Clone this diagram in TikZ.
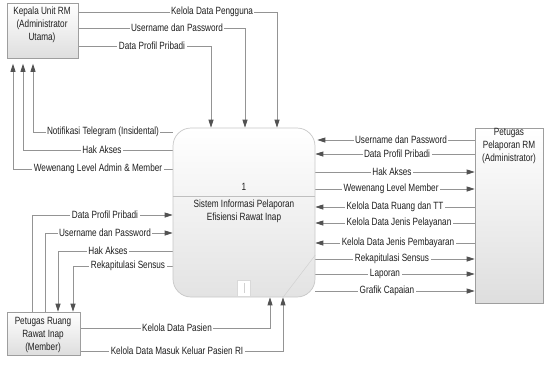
\documentclass[tikz,border=0pt]{standalone}
\usepackage{fontspec}
\setmainfont{Liberation Sans}[FakeStretch=0.78]
\usetikzlibrary{arrows.meta}
\pgfdeclarelayer{bg}
\pgfsetlayers{bg,main}

\begin{document}
\begin{tikzpicture}[x=1pt,y=-1pt,
  txt/.style={font=\fontsize{10.5}{12.8}\selectfont, text=black!88, inner sep=0pt},
  lbl/.style={txt, fill=white, inner sep=1.5pt},
  ent/.style={draw=black!38, line width=0.7pt, top color=white, bottom color=black!13,
              inner sep=0pt},
  procbox/.style={draw=black!22, line width=0.7pt, rounded corners=18pt,
              top color=white, bottom color=black!11, inner sep=0pt},
  flow/.style={draw=black!42, line width=0.8pt,
              -{Triangle[length=8pt,width=5pt,color=black!68]}},
  faint/.style={draw=black!18, line width=0.5pt}]

\useasboundingbox (0,0) rectangle (544,365);

% external entities and the process
\node[ent, minimum width=71pt, minimum height=55pt] (kep) at (42.5,31) {};
\node[txt, align=center] (keptxt) at (42,25) {Kepala Unit RM\\(Administrator\\Utama)};

\node[ent, minimum width=68pt, minimum height=175pt] (pp) at (509,215.5) {};
\node[txt, align=center] (pptxt) at (509,146) {Petugas\\Pelaporan RM\\(Administrator)};

\node[ent, minimum width=73pt, minimum height=43pt] (pr) at (43.5,333.5) {};
\node[txt, align=center] (prtxt) at (43,335) {Petugas Ruang\\Rawat Inap\\(Member)};

\node[procbox, minimum width=142pt, minimum height=169pt] (proc) at (244,212.5) {};
\draw[draw=black!25, line width=0.6pt] (proc.west |- 0,196) -- (proc.east |- 0,196);
\node[txt] (pnum) at (244,187) {1};
\node[txt, align=center] (pname) at (244,211.5) {Sistem Informasi Pelaporan\\Efisiensi Rawat Inap};
\draw[faint] (proc.east |- 0,255) -- (proc.south -| 283,0);
\node[draw=black!15, fill=white, minimum width=13pt, minimum height=16pt, inner sep=0pt]
  (pmark) at (244,288.5) {};
\draw[faint] (pmark.north) ++(0,3) -- ++(0,10);

% data flows
\begin{pgfonlayer}{bg}
  % Kepala Unit RM -> process
  \draw[flow] (kep.east |- 0,12) -| (proc.north -| 277,0);
  \draw[flow] (kep.east |- 0,28) -| (proc.north -| 245,0);
  \draw[flow] (kep.east |- 0,46) -| (proc.north -| 211,0);
  % process -> Kepala Unit RM
  \draw[flow, shorten >=5pt] (proc.west |- 0,132) -| (kep.south -| 33,0);
  \draw[flow, shorten >=5pt] (proc.west |- 0,150) -| (kep.south -| 23,0);
  \draw[flow, shorten >=5pt] (proc.west |- 0,169) -| (kep.south -| 13,0);
  % Petugas Ruang <-> process
  \draw[flow] (pr.north -| 32,0) |- (proc.west |- 0,215);
  \draw[flow] (pr.north -| 45,0) |- (proc.west |- 0,233);
  \draw[flow] (proc.west |- 0,251) -| (pr.north -| 58,0);
  \draw[flow] (proc.west |- 0,266) -| (pr.north -| 73,0);
  \draw[flow] (pr.east |- 0,328) -| (proc.south -| 270,0);
  \draw[flow] (pr.east |- 0,351) -| (proc.south -| 283,0);
  % Petugas Pelaporan RM <-> process
  \draw[flow, shorten >=2pt] (pp.west |- 0,140) -- (proc.east |- 0,140);
  \draw[flow] (pp.west |- 0,154) -- (proc.east |- 0,154);
  \draw[flow] (proc.east |- 0,172) -- (pp.west |- 0,172);
  \draw[flow] (proc.east |- 0,189) -- (pp.west |- 0,189);
  \draw[flow] (pp.west |- 0,207) -- (proc.east |- 0,207);
  \draw[flow] (pp.west |- 0,223) -- (proc.east |- 0,223);
  \draw[flow] (pp.west |- 0,243) -- (proc.east |- 0,243);
  \draw[flow] (proc.east |- 0,259) -- (pp.west |- 0,259);
  \draw[flow] (proc.east |- 0,274) -- (pp.west |- 0,274);
  \draw[flow] (proc.east |- 0,291) -- (pp.west |- 0,291);
\end{pgfonlayer}

% flow labels
\node[lbl] (l1) at (212,12) {Kelola Data Pengguna};
\node[lbl] (l2) at (177,28) {Username dan Password};
\node[lbl] (l3) at (152,46) {Data Profil Pribadi};
\node[lbl] (l4) at (103,132) {Notifikasi Telegram (Insidental)};
\node[lbl] (l5) at (102,150) {Hak Akses};
\node[lbl] (l6) at (98,169) {Wewenang Level Admin \& Member};
\node[lbl] (l7) at (105,215) {Data Profil Pribadi};
\node[lbl] (l8) at (105,233) {Username dan Password};
\node[lbl] (l9) at (108,251) {Hak Akses};
\node[lbl] (l10) at (128,266) {Rekapitulasi Sensus};
\node[lbl] (l11) at (177,328) {Kelola Data Pasien};
\node[lbl] (l12) at (177,351) {Kelola Data Masuk Keluar Pasien RI};
\node[lbl] (r1) at (401,140) {Username dan Password};
\node[lbl] (r2) at (397,154) {Data Profil Pribadi};
\node[lbl] (r3) at (392,172) {Hak Akses};
\node[lbl] (r4) at (391,189) {Wewenang Level Member};
\node[lbl] (r5) at (395,207) {Kelola Data Ruang dan TT};
\node[lbl] (r6) at (399,223) {Kelola Data Jenis Pelayanan};
\node[lbl] (r7) at (398,243) {Kelola Data Jenis Pembayaran};
\node[lbl] (r8) at (392,259) {Rekapitulasi Sensus};
\node[lbl] (r9) at (385,274) {Laporan};
\node[lbl] (r10) at (387,291) {Grafik Capaian};
\end{tikzpicture}
\end{document}
